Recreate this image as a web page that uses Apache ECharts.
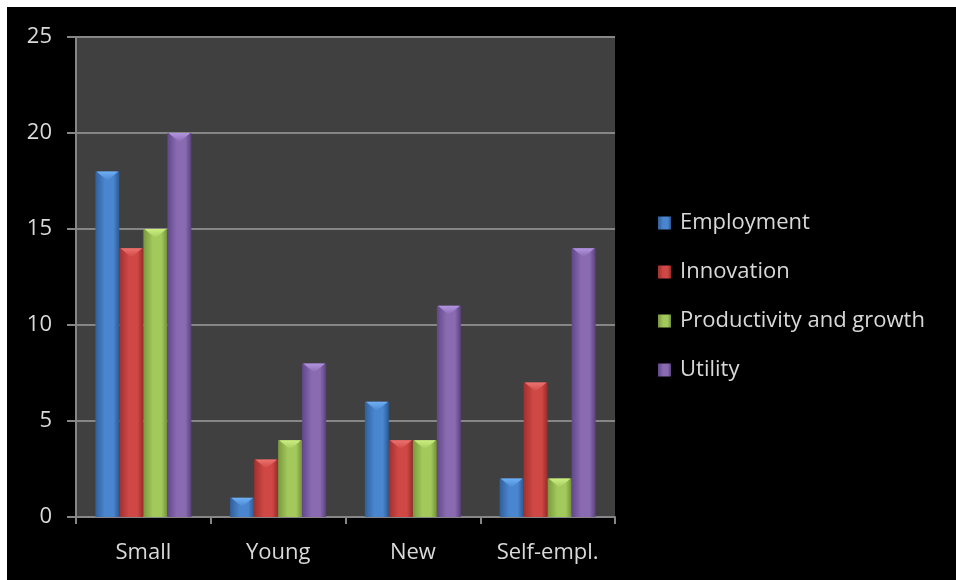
<!DOCTYPE html>
<html>
<head>
<meta charset="utf-8">
<script src="https://cdn.jsdelivr.net/npm/echarts@6/dist/echarts.min.js"></script>
<style>
html,body{margin:0;padding:0;background:#ffffff;width:956px;height:580px;overflow:hidden;}
#chart{position:absolute;left:7px;top:7px;width:949px;height:573px;}
</style>
</head>
<body>
<div id="chart"></div>
<script>
const categories = ['Small', 'Young', 'New', 'Self-empl.'];
const employment = [18, 1, 6, 2];
const innovation = [14, 3, 4, 7];
const productivity = [15, 4, 4, 2];
const utility = [20, 8, 11, 14];
const seriesNames = ['Employment', 'Innovation', 'Productivity and growth', 'Utility'];
const yTicks = [0, 5, 10, 15, 20, 25];

const palettes = [
  ['#30609c', '#4a86cf', '#2c5890', '#6fb0f5'],
  ['#a0302d', '#cf4845', '#962b28', '#ec7370'],
  ['#7a993d', '#a3c95c', '#728f37', '#cdef82'],
  ['#60488a', '#8a6bb2', '#59417c', '#b394e0']
];
const values = [employment, innovation, productivity, utility];
const BAR_W = 24;

function grad(p) {
  return new echarts.graphic.LinearGradient(0, 0, 1, 0, [
    {offset: 0, color: p[0]}, {offset: 0.4, color: p[1]}, {offset: 0.75, color: p[1]}, {offset: 1, color: p[2]}
  ]);
}

const FONT = 'Open Sans';
const barSeries = seriesNames.map((name, i) => ({
  name: name,
  type: 'bar',
  data: values[i],
  barWidth: BAR_W,
  barGap: '0%',
  itemStyle: {color: grad(palettes[i])}
}));
const capSeries = seriesNames.map((name, i) => ({
  name: name + ' cap',
  type: 'custom',
  silent: true,
  z: 3,
  data: values[i].map((v, c) => [c, v]),
  renderItem: function (params, api) {
    const p = api.coord([api.value(0), api.value(1)]);
    const x = p[0] + (i - 1.5) * BAR_W - BAR_W / 2;
    const y = p[1];
    return {
      type: 'polygon',
      shape: {points: [[x + 1, y], [x + BAR_W - 1, y], [x + BAR_W / 2, y + 9]]},
      style: {
        fill: new echarts.graphic.LinearGradient(0, 0, 0, 1, [
          {offset: 0, color: palettes[i][3]}, {offset: 1, color: palettes[i][1]}
        ])
      }
    };
  }
}));

const chart = echarts.init(document.getElementById('chart'));
chart.setOption({
  backgroundColor: '#000000',
  animation: false,
  textStyle: {fontFamily: FONT},
  grid: {left: 69, top: 30, width: 539, height: 480, containLabel: false, show: true, backgroundColor: '#404040', borderWidth: 0},
  legend: {
    data: seriesNames,
    orient: 'vertical',
    left: 651, top: 205,
    padding: 0,
    itemWidth: 13, itemHeight: 13,
    itemGap: 27,
    icon: 'rect',
    textStyle: {color: '#d9d9d9', fontSize: 22, fontFamily: FONT, padding: [0, 0, 0, 4]}
  },
  xAxis: {
    type: 'category',
    data: categories,
    axisLine: {show: true, lineStyle: {color: '#868686', width: 2}},
    axisTick: {show: true, length: 7, lineStyle: {color: '#868686', width: 2}},
    axisLabel: {color: '#d9d9d9', fontSize: 22, margin: 25, fontFamily: FONT},
    splitLine: {show: false}
  },
  yAxis: {
    type: 'value',
    min: yTicks[0], max: yTicks[yTicks.length - 1], interval: 5,
    axisLine: {show: true, lineStyle: {color: '#868686', width: 2}},
    axisTick: {show: true, length: 9, lineStyle: {color: '#868686', width: 2}},
    axisLabel: {color: '#d9d9d9', fontSize: 22, margin: 24, fontFamily: FONT},
    splitLine: {show: true, lineStyle: {color: '#868686', width: 2}}
  },
  series: barSeries.concat(capSeries)
});
</script>
</body>
</html>
